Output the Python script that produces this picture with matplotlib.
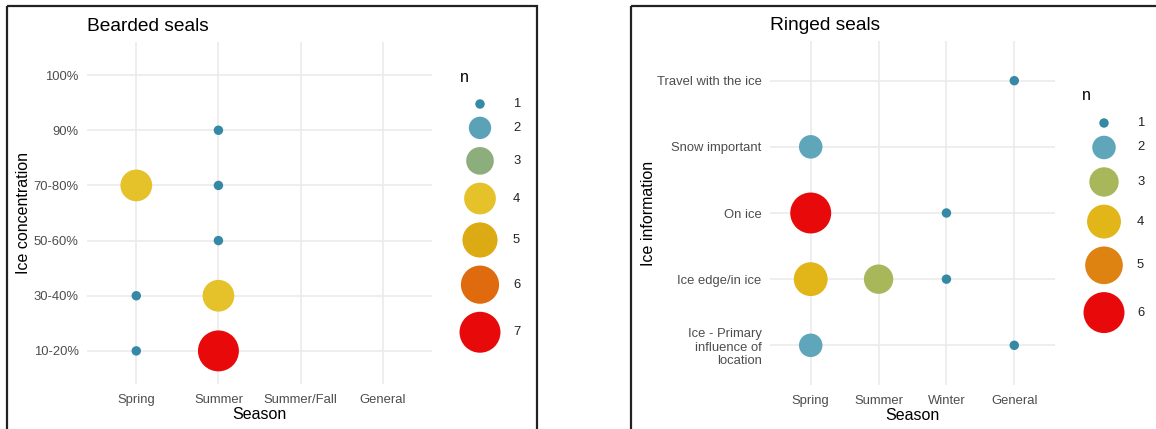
import numpy as np
import matplotlib
matplotlib.use('Agg')
import matplotlib.pyplot as plt
from matplotlib.patches import Rectangle

plt.rcParams['font.family'] = ['Liberation Sans', 'DejaVu Sans']

# Bearded seals
bearded_seasons = ['Spring', 'Summer', 'Summer/Fall', 'General']
bearded_levels = ['10-20%', '30-40%', '50-60%', '70-80%', '90%', '100%']
bearded_x = ['Spring', 'Spring', 'Spring', 'Summer', 'Summer', 'Summer', 'Summer', 'Summer']
bearded_y = ['70-80%', '30-40%', '10-20%', '90%', '70-80%', '50-60%', '30-40%', '10-20%']
bearded_n = [4, 1, 1, 1, 1, 1, 4, 7]

# Ringed seals
ringed_seasons = ['Spring', 'Summer', 'Winter', 'General']
ringed_levels = ['Ice - Primary\ninfluence of\nlocation', 'Ice edge/in ice', 'On ice',
                 'Snow important', 'Travel with the ice']
ringed_x = ['General', 'Spring', 'Spring', 'Winter', 'Spring', 'Summer', 'Winter', 'Spring', 'General']
ringed_y = ['Travel with the ice', 'Snow important', 'On ice', 'On ice', 'Ice edge/in ice',
            'Ice edge/in ice', 'Ice edge/in ice', 'Ice - Primary\ninfluence of\nlocation',
            'Ice - Primary\ninfluence of\nlocation']
ringed_n = [1, 2, 6, 1, 4, 3, 1, 2, 1]

# colour for n = 1..max (zissou-like gradient)
bearded_colors = ['#3589a5', '#5ba2b9', '#8bae7c', '#e5c12a', '#dcab13', '#e06b0f', '#e80a0a']
ringed_colors = ['#3589a5', '#5fa6bb', '#a9b75b', '#e2b518', '#de8212', '#e80a0a']

W, H, DPI = 1156, 429, 100
fig = plt.figure(figsize=(W / DPI, H / DPI), dpi=DPI)
GRID = '#EBEBEB'
TXT = '#4D4D4D'


def diam(n, nmax):
    # ggplot-like area scale, size range 1..6 plus stroke, in pixels
    return 6.3 * (1.5 + 5 * np.sqrt((n - 1) / (nmax - 1)))


def px_axes(x0, x1, y0, y1):
    return fig.add_axes([x0 / W, 1 - y1 / H, (x1 - x0) / W, (y1 - y0) / H])


def panel(ax, seasons, levels, xs, ys, ns, colors, title, ylabel, ypad):
    nmax = len(colors)
    xi = [seasons.index(s) for s in xs]
    yi = [levels.index(l) for l in ys]
    for i in range(len(seasons)):
        ax.axvline(i, color=GRID, lw=1.2, zorder=0)
    for j in range(len(levels)):
        ax.axhline(j, color=GRID, lw=1.2, zorder=0)
    sizes = [(diam(n, nmax) * 72 / DPI) ** 2 for n in ns]
    cols = [colors[n - 1] for n in ns]
    ax.scatter(xi, yi, s=sizes, c=cols, edgecolors='none', zorder=3)
    ax.set_xlim(-0.6, len(seasons) - 0.4)
    ax.set_ylim(-0.6, len(levels) - 0.4)
    ax.set_xticks(range(len(seasons)))
    ax.set_xticklabels(seasons)
    ax.set_yticks(range(len(levels)))
    ax.set_yticklabels(levels, linespacing=1.18)
    ax.tick_params(length=0, labelsize=9.4, labelcolor=TXT)
    ax.tick_params(axis='x', pad=7)
    ax.tick_params(axis='y', pad=6)
    for sp in ax.spines.values():
        sp.set_visible(False)
    ax.set_xlabel('Season', fontsize=11.5, labelpad=1)
    ax.set_ylabel(ylabel, fontsize=11.5, labelpad=ypad)
    ax.set_title(title, fontsize=13.8, loc='left', pad=8)


ax1 = px_axes(87, 432, 42, 384)
panel(ax1, bearded_seasons, bearded_levels, bearded_x, bearded_y, bearded_n,
      bearded_colors, 'Bearded seals', 'Ice concentration', 1.8)

ax2 = px_axes(770, 1055, 41, 385)
panel(ax2, ringed_seasons, ringed_levels, ringed_x, ringed_y, ringed_n,
      ringed_colors, 'Ringed seals', 'Ice information', 0.3)

# overlay in pixel coordinates for legends and frames
ov = fig.add_axes([0, 0, 1, 1], zorder=5)
ov.set_xlim(0, W)
ov.set_ylim(H, 0)
ov.axis('off')
ov.patch.set_alpha(0)

ov.add_patch(Rectangle((7, 6), 530, 440, fill=False, ec='#222222', lw=1.6, clip_on=False))
ov.add_patch(Rectangle((631, 6), 560, 440, fill=False, ec='#222222', lw=1.6, clip_on=False))


def legend(colors, x_title, x_circ, x_lab, y_title, y_first):
    nmax = len(colors)
    ov.text(x_title, y_title, 'n', fontsize=11.5, ha='left', va='center')
    y = y_first
    for n in range(1, nmax + 1):
        d = diam(n, nmax)
        ov.scatter([x_circ], [y], s=(d * 72 / DPI) ** 2, c=colors[n - 1], edgecolors='none')
        ov.text(x_lab, y, str(n), fontsize=9.4, color='#222222', ha='left', va='center')
        if n < nmax:
            y += (d + diam(n + 1, nmax)) / 2 + 8


legend(bearded_colors, 460, 480, 513, 77, 104)
legend(ringed_colors, 1082, 1104, 1137, 96, 123)

fig.savefig('out.png', dpi=DPI)
